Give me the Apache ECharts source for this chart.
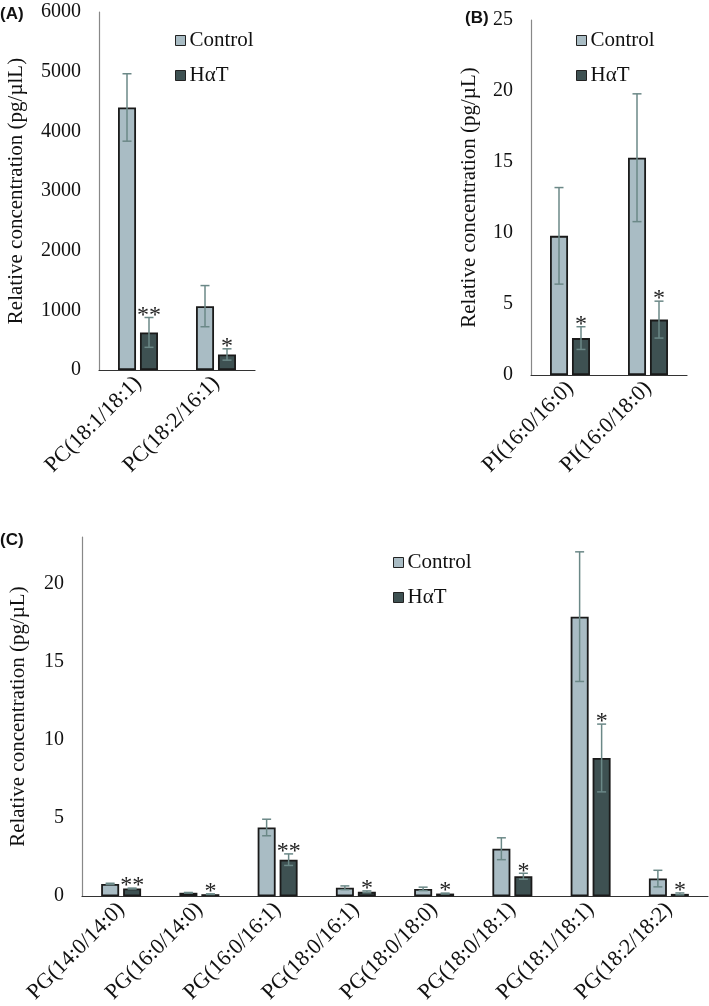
<!DOCTYPE html>
<html>
<head>
<meta charset="utf-8">
<script src="https://cdn.jsdelivr.net/npm/echarts@6/dist/echarts.min.js"></script>
<style>
  html, body { margin: 0; padding: 0; background: #fff; }
  #chart { width: 709px; height: 1006px; }
</style>
</head>
<body>
<div id="chart"></div>
<script>
// (A) PC species
const pcCats = ['PC(18:1/18:1)', 'PC(18:2/16:1)']
const pcControl = [4400, 1070]
const pcControlErr = [565, 345]
const pcHat = [630, 260]
const pcHatErr = [250, 95]
const pcSig = ['**', '*']

// (B) PI species
const piCats = ['PI(16:0/16:0)', 'PI(16:0/18:0)']
const piControl = [9.8, 15.3]
const piControlErr = [3.4, 4.5]
const piHat = [2.6, 3.9]
const piHatErr = [0.8, 1.3]
const piSig = ['*', '*']

// (C) PG species
const pgCats = ['PG(14:0/14:0)', 'PG(16:0/14:0)', 'PG(16:0/16:1)', 'PG(18:0/16:1)',
    'PG(18:0/18:0)', 'PG(18:0/18:1)', 'PG(18:1/18:1)', 'PG(18:2/18:2)']
const pgControl = [0.79, 0.22, 4.40, 0.54, 0.47, 3.04, 17.9, 1.13]
const pgControlErr = [0.04, 0.02, 0.53, 0.12, 0.11, 0.70, 4.15, 0.53]
const pgHat = [0.49, 0.13, 2.34, 0.28, 0.17, 1.28, 8.85, 0.15]
const pgHatErr = [0.03, 0.02, 0.37, 0.06, 0.03, 0.19, 2.17, 0.06]
const pgSig = ['**', '*', '**', '*', '*', '*', '*', '*']

const SERIF = '"Liberation Serif", "DejaVu Serif", serif'
const CONTROL_COLOR = '#a9bcc4'
const HAT_COLOR = '#3e5152'
const ERR_COLOR = '#6b8887'
const BAR_W = 18
const BAR_OFF = 11

// error bar (+ optional star text) drawn around a bar
function errSeries(idx, values, errs, offset, sig) {
    return {
        type: 'custom',
        name: 'err' + idx + offset,
        xAxisIndex: idx,
        yAxisIndex: idx,
        z: 5,
        silent: true,
        data: values.map((v, i) => [i, v, errs[i]]),
        renderItem: (params, api) => {
            const i = api.value(0)
            const v = api.value(1)
            const e = api.value(2)
            const top = api.coord([i, v + e])
            const bot = api.coord([i, Math.max(v - e, 0)])
            const x = top[0] + offset
            const cap = 4.5
            const children = [
                { type: 'line', shape: { x1: x, y1: top[1], x2: x, y2: bot[1] }, style: { stroke: ERR_COLOR, lineWidth: 1.5 } },
                { type: 'line', shape: { x1: x - cap, y1: top[1], x2: x + cap, y2: top[1] }, style: { stroke: ERR_COLOR, lineWidth: 1.5 } },
                { type: 'line', shape: { x1: x - cap, y1: bot[1], x2: x + cap, y2: bot[1] }, style: { stroke: ERR_COLOR, lineWidth: 1.5 } }
            ]
            if (sig) {
                children.push({
                    type: 'text',
                    style: {
                        text: sig[i], x: x, y: top[1] + 10,
                        align: 'center', verticalAlign: 'bottom',
                        font: '24px ' + SERIF, fill: '#222'
                    }
                })
            }
            return { type: 'group', children: children }
        }
    }
}

function barSeries(idx, name, values, color) {
    return {
        type: 'bar',
        name: name,
        xAxisIndex: idx,
        yAxisIndex: idx,
        barWidth: BAR_W,
        barGap: '22%',
        data: values,
        itemStyle: { color: color, borderColor: '#1a1a1a', borderWidth: 1.8 }
    }
}

function xAxisFor(idx, cats) {
    return {
        type: 'category',
        gridIndex: idx,
        data: cats,
        axisLine: { lineStyle: { color: '#333', width: 1.2 } },
        axisTick: { show: false },
        axisLabel: { rotate: 45, interval: 0, margin: 10, fontFamily: SERIF, fontSize: 22, color: '#111' }
    }
}

function yAxisFor(idx, max, interval, name, nameGap) {
    return {
        type: 'value',
        gridIndex: idx,
        min: 0,
        max: max,
        interval: interval,
        name: name,
        nameLocation: 'middle',
        nameGap: nameGap,
        nameTextStyle: { fontFamily: SERIF, fontSize: 21, color: '#111' },
        axisLine: { show: true, lineStyle: { color: '#888', width: 1.2 } },
        axisTick: { show: false },
        splitLine: { show: false },
        axisLabel: {
            margin: 18, fontFamily: SERIF, fontSize: 20, color: '#111',
            showMaxLabel: max % interval === 0,
            formatter: (v) => String(v)
        }
    }
}

function legendAt(left, top) {
    return {
        data: ['Control', 'HαT'],
        left: left,
        top: top,
        orient: 'vertical',
        icon: 'rect',
        itemWidth: 10,
        itemHeight: 10,
        itemGap: 14,
        selectedMode: false,
        itemStyle: { borderColor: '#222', borderWidth: 1 },
        textStyle: { fontFamily: SERIF, fontSize: 21, color: '#111', padding: [0, 0, 0, -1] }
    }
}

const option = {
    animation: false,
    backgroundColor: '#fff',
    grid: [
        { left: 99, top: 12, width: 156, height: 358 },
        { left: 531, top: 20, width: 156, height: 355 },
        { left: 80, top: 537, width: 628, height: 360 }
    ],
    xAxis: [xAxisFor(0, pcCats), xAxisFor(1, piCats), xAxisFor(2, pgCats)],
    yAxis: [
        yAxisFor(0, 6000, 1000, 'Relative concentration (pg/µlL)', 72),
        yAxisFor(1, 25, 5, 'Relative concentration (pg/µL)', 51),
        yAxisFor(2, 23, 5, 'Relative concentration (pg/µL)', 53)
    ],
    legend: [legendAt(170, 25), legendAt(571, 25), legendAt(388, 547)],
    graphic: [
        { type: 'text', left: 0, top: 6, style: { text: '(A)', font: 'bold 17px "Liberation Sans", Arial, sans-serif', fill: '#111' } },
        { type: 'text', left: 465, top: 10, style: { text: '(B)', font: 'bold 17px "Liberation Sans", Arial, sans-serif', fill: '#111' } },
        { type: 'text', left: 0, top: 532, style: { text: '(C)', font: 'bold 17px "Liberation Sans", Arial, sans-serif', fill: '#111' } }
    ],
    series: [
        barSeries(0, 'Control', pcControl, CONTROL_COLOR),
        barSeries(0, 'HαT', pcHat, HAT_COLOR),
        errSeries(0, pcControl, pcControlErr, -BAR_OFF, null),
        errSeries(0, pcHat, pcHatErr, BAR_OFF, pcSig),
        barSeries(1, 'Control', piControl, CONTROL_COLOR),
        barSeries(1, 'HαT', piHat, HAT_COLOR),
        errSeries(1, piControl, piControlErr, -BAR_OFF, null),
        errSeries(1, piHat, piHatErr, BAR_OFF, piSig),
        barSeries(2, 'Control', pgControl, CONTROL_COLOR),
        barSeries(2, 'HαT', pgHat, HAT_COLOR),
        errSeries(2, pgControl, pgControlErr, -BAR_OFF, null),
        errSeries(2, pgHat, pgHatErr, BAR_OFF, pgSig)
    ]
}

const chart = echarts.init(document.getElementById('chart'))
chart.setOption(option)
</script>
</body>
</html>
